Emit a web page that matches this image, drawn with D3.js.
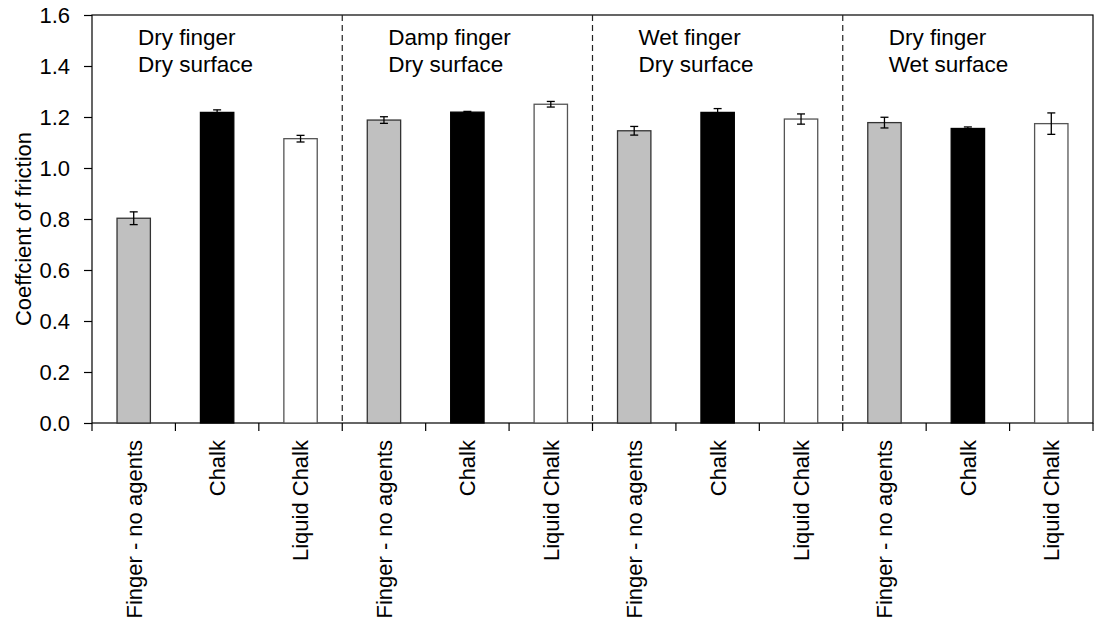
<!DOCTYPE html>
<html>
<head>
<meta charset="utf-8">
<script src="https://cdn.jsdelivr.net/npm/d3@7"></script>
<style>
  body { margin: 0; background: #fff; }
  svg { font-family: "Liberation Sans", Arial, sans-serif; }
</style>
</head>
<body>
<svg id="chart" width="1095" height="627"></svg>
<script>
const groups = ["Dry finger|Dry surface", "Damp finger|Dry surface", "Wet finger|Dry surface", "Dry finger|Wet surface"];
const agents = ["Finger - no agents", "Chalk", "Liquid Chalk"];
const values = [
  [0.803, 1.218, 1.115],
  [1.188, 1.219, 1.250],
  [1.146, 1.218, 1.192],
  [1.178, 1.155, 1.174]
];
const errors = [
  [0.025, 0.010, 0.013],
  [0.013, 0.003, 0.011],
  [0.017, 0.015, 0.020],
  [0.021, 0.006, 0.042]
];
const fills = ["#c0c0c0", "#000000", "#ffffff"];
const strokes = ["#333333", "#000000", "#555555"];
const yTicks = [0, 0.2, 0.4, 0.6, 0.8, 1.0, 1.2, 1.4, 1.6];

const margin = {top: 15, right: 2, bottom: 204, left: 92};
const width = 1095, height = 627;
const svg = d3.select("#chart");

// flatten into 12 categories
const data = [];
groups.forEach((g, gi) => agents.forEach((a, ai) => {
  data.push({key: gi + "-" + ai, gi, ai, label: a, value: values[gi][ai], err: errors[gi][ai]});
}));

const x = d3.scaleBand()
  .domain(data.map(d => d.key))
  .range([margin.left, width - margin.right]);

const catW = x.step();
const catLeft = i => margin.left + i * catW;

const y = d3.scaleLinear().domain([0, 1.6]).range([height - margin.bottom, margin.top]);

// frame
svg.append("rect")
  .attr("x", margin.left).attr("y", margin.top)
  .attr("width", width - margin.right - margin.left)
  .attr("height", y(0) - margin.top)
  .attr("fill", "none").attr("stroke", "#000").attr("stroke-width", 1.2);

// dashed separators
svg.selectAll("line.sep")
  .data(groups.slice(1))
  .join("line")
  .attr("class", "sep")
  .attr("x1", (d, i) => catLeft((i + 1) * 3)).attr("x2", (d, i) => catLeft((i + 1) * 3))
  .attr("y1", margin.top).attr("y2", y(0))
  .attr("stroke", "#222").attr("stroke-width", 1.2)
  .attr("stroke-dasharray", "6,4");

// bars
const barW = catW * 0.4;
svg.selectAll("rect.bar")
  .data(data)
  .join("rect")
  .attr("class", "bar")
  .attr("x", d => x(d.key) + (catW - barW) / 2)
  .attr("y", d => y(d.value))
  .attr("width", barW)
  .attr("height", d => y(0) - y(d.value))
  .attr("fill", d => fills[d.ai])
  .attr("stroke", d => strokes[d.ai])
  .attr("stroke-width", 1.3);

// error bars
const cx = d => x(d.key) + catW / 2;
const eb = svg.selectAll("g.err").data(data).join("g").attr("class", "err")
  .attr("stroke", "#000").attr("stroke-width", 1.3);
eb.append("line")
  .attr("x1", cx).attr("x2", cx)
  .attr("y1", d => y(d.value + d.err)).attr("y2", d => y(d.value - d.err));
eb.append("line")
  .attr("x1", d => cx(d) - 4).attr("x2", d => cx(d) + 4)
  .attr("y1", d => y(d.value + d.err)).attr("y2", d => y(d.value + d.err));
eb.append("line")
  .attr("x1", d => cx(d) - 4).attr("x2", d => cx(d) + 4)
  .attr("y1", d => y(d.value - d.err)).attr("y2", d => y(d.value - d.err));

// y axis
const yAxis = svg.append("g")
  .attr("transform", `translate(${margin.left},0)`)
  .call(d3.axisLeft(y).tickValues(yTicks).tickFormat(d3.format(".1f")).tickSize(8).tickPadding(14));
yAxis.select(".domain").remove();
yAxis.selectAll("line").attr("stroke", "#000").attr("stroke-width", 1.2);
yAxis.selectAll("text").attr("font-size", 22).attr("fill", "#000").attr("font-family", "Liberation Sans, Arial, sans-serif");

// x ticks at category boundaries
svg.selectAll("line.xtick")
  .data(d3.range(data.length + 1))
  .join("line")
  .attr("class", "xtick")
  .attr("x1", i => catLeft(i)).attr("x2", i => catLeft(i))
  .attr("y1", y(0)).attr("y2", y(0) + 8)
  .attr("stroke", "#000").attr("stroke-width", 1.2);

// x labels
svg.selectAll("text.xlab")
  .data(data)
  .join("text")
  .attr("class", "xlab")
  .attr("transform", d => `translate(${cx(d)},${y(0) + 17}) rotate(-90)`)
  .attr("text-anchor", "end")
  .attr("dy", "0.36em")
  .attr("font-size", 22)
  .text(d => d.label);

// y title
svg.append("text")
  .attr("transform", `translate(31,229) rotate(-90)`)
  .attr("text-anchor", "middle")
  .attr("font-size", 22)
  .text("Coeffcient of friction");

// group labels
groups.forEach((g, gi) => {
  const t = svg.append("text")
    .attr("y", 45)
    .attr("font-size", 22.5);
  g.split("|").forEach((line, li) => {
    t.append("tspan").attr("x", catLeft(gi * 3) + 46).attr("dy", li === 0 ? 0 : 27).text(line);
  });
});
</script>
</body>
</html>
